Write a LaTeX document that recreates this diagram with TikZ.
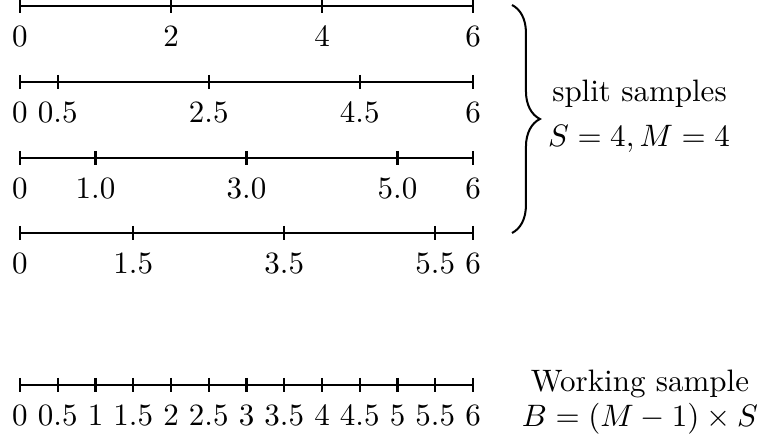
\documentclass[tikz,border=0pt]{standalone}
\usetikzlibrary{decorations.pathreplacing}
\begin{document}
\begin{tikzpicture}[x=0.3226pt,y=-0.3226pt,
  axis/.style={line width=0.65pt},
  tickmark/.style={line width=0.65pt},
  lab/.style={anchor=base,inner sep=0pt},
  txt/.style={anchor=base,inner sep=0pt}]
\useasboundingbox (0,0) rectangle (759,440);
\def\u{75.5}
\foreach \nm/\yy/\lst in {%
  a/6/{0/0,2/2,4/4,6/6},%
  b/82/{0/0,0.5/0.5,2.5/2.5,4.5/4.5,6/6},%
  c/158/{0/0,1/1.0,3/3.0,5/5.0,6/6},%
  d/233/{0/0,1.5/1.5,3.5/3.5,5.5/5.5,6/6},%
  e/385/{0/0,0.5/0.5,1/1,1.5/1.5,2/2,2.5/2.5,3/3,3.5/3.5,4/4,4.5/4.5,5/5,5.5/5.5,6/6}}{
  \coordinate (\nm s) at (20,\yy);
  \coordinate (\nm e) at (473,\yy);
  \draw[axis] (\nm s) -- (\nm e);
  \foreach \v/\t [count=\i] in \lst {
    \coordinate (\nm t\i) at ({20+\v*\u},\yy);
    \draw[tickmark] (\nm t\i) ++(0,-7) -- ++(0,14);
    \node[lab] (\nm l\i) at ({20+\v*\u},{\yy+40.5}) {\t};
  }
}
\coordinate (bt) at (512,5);
\coordinate (bb) at (512,233);
\draw[line width=0.65pt,decorate,decoration={brace,amplitude=9pt}] (bt) -- (bb);
\node[txt] (split) at (639.5,102) {split samples};
\node[txt] (sm) at (639,146.5) {$S=4, M=4$};
\node[txt] (ws) at (640,391.5) {Working sample};
\node[txt] (bf) at (640,427) {$B=(M-1)\times S$};
\end{tikzpicture}
\end{document}
